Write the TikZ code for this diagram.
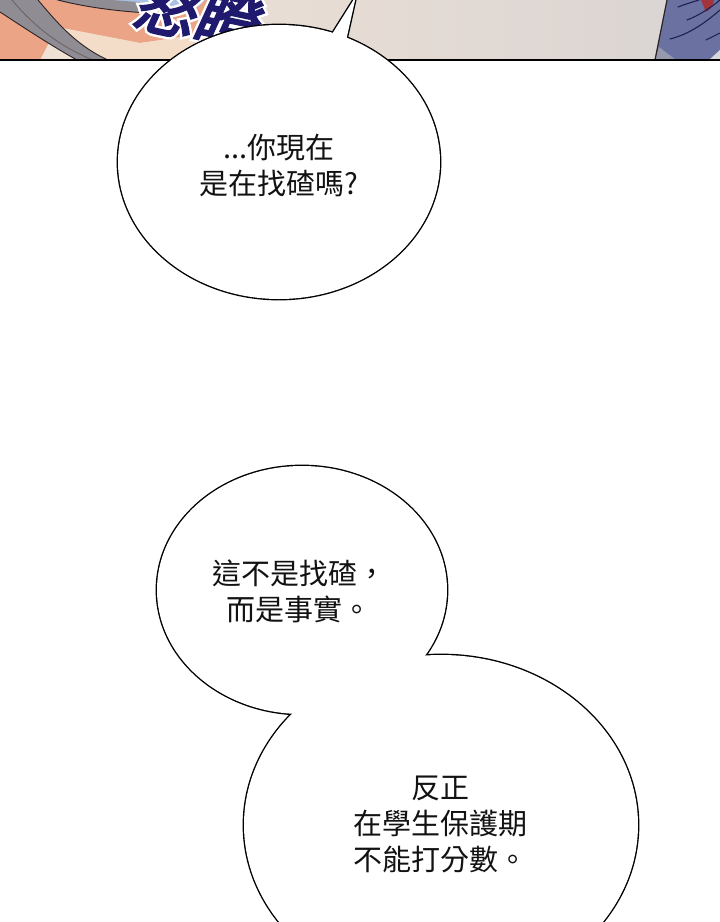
\documentclass[tikz,border=0pt]{standalone}
\usepackage{fontspec}
\newfontfamily\cjk{Noto Sans CJK TC}
\newfontfamily\sfxfont{Noto Sans CJK TC}[FakeBold=4,FakeSlant=0.22]
\newfontfamily\sfxhalofont{Noto Sans CJK TC}[FakeBold=12,FakeSlant=0.22]
\definecolor{bgL}{HTML}{F1E3D5}
\definecolor{bgR}{HTML}{D9D4D3}
\definecolor{salmon}{HTML}{EBA485}
\definecolor{creamc}{HTML}{F4DDC8}
\definecolor{hairgray}{HTML}{8F8D93}
\definecolor{skyblue}{HTML}{A9C2E6}
\definecolor{sfxnavy}{HTML}{1F1A6E}
\definecolor{cloth}{HTML}{6B72A1}
\definecolor{clothline}{HTML}{1E2050}
\definecolor{redpatch}{HTML}{A3343C}
\definecolor{inkline}{HTML}{2E2224}
\begin{document}
\begin{tikzpicture}[x=1pt,y=-1pt,
  outline/.style={draw=black,line width=2.8pt,line join=miter},
  bubblefill/.style={fill=white},
  speech/.style={font=\cjk\fontsize{29}{36}\selectfont,text=black!93,align=center,inner sep=0pt},
  artline/.style={draw=inkline,line width=0.9pt},
  clothstroke/.style={draw=clothline,line width=1.1pt,line cap=round},
  sfx/.style={font=\sfxfont\fontsize{61}{61}\selectfont,anchor=base,rotate=-12,inner sep=0pt},
  sfxhalo/.style={font=\sfxhalofont\fontsize{61}{61}\selectfont,anchor=base,rotate=-12,inner sep=0pt}]
\clip (0,0) rectangle (720,922);
\fill[white] (0,0) rectangle (720,922);
% ---------- top panel artwork ----------
\begin{scope}
\clip (0,0) rectangle (720,60);
\shade[left color=bgL,right color=bgR] (0,0) rectangle (720,60);
\fill[salmon] (0,0) -- (215,0) -- (222,18) -- (200,34) -- (140,43) -- (57,27) -- (40,60) -- (0,60) -- cycle;
\fill[creamc] (57,27) -- (140,43) -- (200,35) -- (235,60) -- (85,60) -- cycle;
\fill[skyblue] (105,0) -- (205,0) -- (198,7) -- (150,9) -- (128,5) -- cycle;
\fill[hairgray] (55,0) .. controls (85,7) and (115,11) .. (145,13) -- (150,3) -- (112,0) -- cycle;
\draw[artline] (58,0) .. controls (85,7) and (115,11) .. (148,13);
\fill[hairgray] (0,0) -- (38,0) .. controls (55,20) and (75,45) .. (108,60) -- (77,60) .. controls (50,45) and (20,25) .. (0,12) -- cycle;
\draw[artline] (38,0) .. controls (55,20) and (75,45) .. (108,60);
\draw[artline] (0,12) .. controls (20,25) and (50,45) .. (77,60);
\draw[artline,draw=inkline!70] (12,0) .. controls (32,24) and (58,46) .. (93,60);
% right side clothing
\fill[cloth] (667,0) -- (720,0) -- (720,60) -- (655,60) -- cycle;
\fill[black!25!cloth!60!white] (655,60) -- (659,47) -- (676,60) -- cycle;
\fill[black!15!white] (709,60) -- (720,50) -- (720,60) -- cycle;
\fill[redpatch] (701,0) -- (714,0) -- (712,7) -- (706,12) -- cycle;
\draw[inkline,line width=1.2pt] (667,0) -- (655,60);
\draw[clothstroke] (678,7) .. controls (686,4) .. (699,0);
\draw[clothstroke] (687,20) .. controls (700,15) and (710,8) .. (720,0);
\draw[clothstroke] (670,39) .. controls (690,34) and (706,22) .. (720,10);
\draw[clothstroke] (706,40) .. controls (712,37) .. (720,33);
% sound effect
\node[sfxhalo,text=white] (sfxhalo) at (190,37) {怒瞪};
\node[sfx,text=sfxnavy] (sfx) at (190,37) {怒瞪};
\end{scope}
\draw[black,line width=2pt] (0,60) -- (720,60);
% ---------- bubble 1 ----------
\draw[outline] (279,162) ellipse [x radius=161,y radius=137];
\draw[outline] (322,50) -- (356,-4) -- (344,50) -- cycle;
\fill[bubblefill] (279,162) ellipse [x radius=161,y radius=137];
\fill[bubblefill] (322,50) -- (356,-4) -- (344,50) -- cycle;
\node[speech] (t1) at (279,165) {...你現在\\是在找碴嗎?};
% ---------- bubble 2 (double) ----------
\draw[outline] (302,590) ellipse [x radius=145,y radius=124];
\draw[outline] (441,825) ellipse [x radius=197,y radius=170];
\fill[bubblefill] (302,590) ellipse [x radius=145,y radius=124];
\fill[bubblefill] (441,825) ellipse [x radius=197,y radius=170];
\node[speech] (t2) at (299,591) {這不是找碴，\\而是事實。};
\node[speech] (t3) at (440,824) {反正\\在學生保護期\\不能打分數。};
\end{tikzpicture}
\end{document}
